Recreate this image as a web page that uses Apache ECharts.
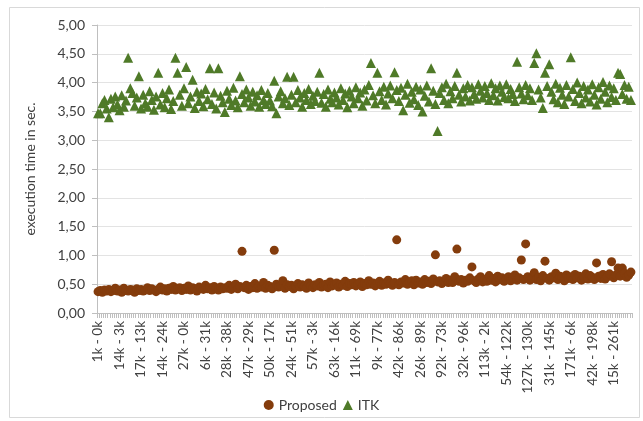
<!DOCTYPE html>
<html>
<head>
<meta charset="utf-8">
<script src="https://cdn.jsdelivr.net/npm/echarts@6/dist/echarts.min.js"></script>
<style>html,body{margin:0;padding:0;background:#fff}#c{width:643px;height:421px}</style>
</head>
<body>
<div id="c"></div>
<script>
var tickLabels = ["1k - 0k","14k - 3k","17k - 13k","14k - 24k","27k - 0k","6k - 31k","28k - 38k","47k - 29k","50k - 17k","24k - 51k","57k - 3k","63k - 16k","11k - 69k","9k - 77k","42k - 86k","26k - 89k","92k - 73k","32k - 96k","113k - 2k","54k - 122k","127k - 130k","31k - 145k","171k - 6k","42k - 198k","15k - 261k"];
var labelStep = 10;
var categoryCount = 249;

var proposed = [
0.37,0.39,0.36,0.40,0.38,0.41,0.37,0.39,0.43,0.38,
0.40,0.36,0.43,0.39,0.38,0.41,0.40,0.36,0.42,0.39,
0.41,0.38,0.40,0.44,0.39,0.42,0.40,0.37,0.41,0.45,
0.40,0.42,0.38,0.43,0.41,0.46,0.40,0.42,0.44,0.39,
0.43,0.41,0.47,0.40,0.44,0.42,0.38,0.45,0.43,0.41,
0.48,0.42,0.44,0.40,0.46,0.43,0.40,0.45,0.42,0.44,
0.43,0.48,0.41,0.45,0.50,0.42,0.46,1.07,0.44,0.48,
0.41,0.46,0.44,0.51,0.43,0.47,0.45,0.53,0.43,0.48,
0.46,0.42,1.09,0.50,0.45,0.47,0.56,0.43,0.49,0.46,
0.48,0.42,0.47,0.51,0.45,0.49,0.46,0.43,0.52,0.47,
0.44,0.49,0.47,0.53,0.45,0.48,0.50,0.44,0.54,0.47,
0.49,0.52,0.45,0.50,0.48,0.55,0.46,0.51,0.49,0.53,
0.47,0.50,0.54,0.46,0.51,0.49,0.56,0.50,0.52,0.47,
0.51,0.55,0.48,0.52,0.50,0.57,0.51,0.48,0.53,1.27,
0.49,0.54,0.52,0.58,0.50,0.53,0.56,0.49,0.57,0.52,
0.54,0.50,0.58,0.53,0.55,0.51,0.59,1.01,0.54,0.56,
0.51,0.55,0.60,0.53,0.57,0.53,0.63,1.11,0.55,0.58,
0.52,0.57,0.55,0.61,0.80,0.56,0.53,0.59,0.63,0.54,
0.58,0.55,0.65,0.57,0.60,0.54,0.64,0.58,0.61,0.55,
0.59,0.63,0.56,0.60,0.66,0.57,0.61,0.92,0.58,1.20,
0.63,0.57,0.61,0.70,0.58,0.62,0.56,0.65,0.90,0.60,
0.57,0.63,0.61,0.69,0.58,0.64,0.62,0.56,0.66,0.60,
0.63,0.58,0.67,0.61,0.64,0.57,0.62,0.68,0.59,0.65,
0.62,0.58,0.87,0.64,0.60,0.67,0.59,0.63,0.68,0.89,
0.61,0.66,0.78,0.64,0.78,0.69,0.62,0.66,0.71
];

var itk = [
3.47,3.47,3.64,3.70,3.55,3.40,3.72,3.57,3.76,3.62,
3.52,3.78,3.58,3.69,4.43,3.90,3.82,3.60,3.74,4.11,
3.55,3.79,3.64,3.58,3.85,3.70,3.53,3.76,4.17,3.62,
3.82,3.57,3.73,3.88,3.54,3.68,4.43,4.17,3.79,3.60,
3.90,4.27,3.64,3.76,4.05,3.56,3.84,3.68,3.81,3.59,
3.89,3.71,4.25,3.63,3.83,3.55,4.25,3.77,3.66,3.49,
3.86,3.72,3.61,3.91,3.69,3.57,4.11,3.80,3.66,3.88,
3.74,3.60,3.84,3.67,3.78,3.58,3.87,3.70,3.63,3.82,
3.69,3.59,4.03,3.47,3.76,3.85,3.64,3.73,4.10,3.61,
3.79,4.10,3.66,3.87,3.74,3.58,3.82,3.70,3.89,3.63,
3.77,3.68,3.84,4.17,3.65,3.80,3.58,3.88,3.72,3.66,
3.83,3.74,3.62,3.90,3.70,3.81,3.57,3.86,3.76,3.64,
3.92,3.73,3.83,3.60,3.88,3.69,3.96,4.34,3.78,3.64,
4.17,3.85,3.70,3.93,3.62,3.81,3.95,3.73,4.18,3.87,
3.68,3.91,3.52,3.79,3.98,3.65,3.84,3.71,3.93,3.61,
3.88,3.50,3.77,3.95,3.67,4.25,3.86,3.63,3.16,3.82,
3.92,3.70,3.98,3.64,3.85,3.73,3.94,4.17,3.79,3.67,
3.90,3.76,3.96,3.69,3.92,3.80,3.72,3.97,3.86,3.74,
3.94,3.82,3.70,3.99,3.78,3.90,3.69,3.95,3.84,3.75,
3.97,3.73,3.89,3.80,3.68,4.36,3.92,3.81,3.71,3.96,
3.78,3.90,3.70,4.34,4.51,3.88,3.74,3.56,4.17,3.94,
4.32,3.84,3.71,3.98,3.66,3.91,3.79,3.63,3.96,3.76,
4.44,3.89,3.68,4.00,3.82,3.64,3.94,3.74,3.88,3.67,
3.97,3.79,3.62,3.92,3.72,4.01,3.84,3.66,3.95,3.75,
3.90,3.70,4.17,4.15,3.80,3.96,3.72,3.93,3.70
];

var categories = [];
for (var i = 0; i < categoryCount; i++) {
  categories.push(i % labelStep === 0 ? tickLabels[i / labelStep] : ('c' + i));
}

var FONT = 'Lato';
var chart = echarts.init(document.getElementById('c'), null, {renderer: 'canvas'});
chart.setOption({
  animation: false,
  backgroundColor: '#fff',
  textStyle: {fontFamily: FONT},
  graphic: [{
    type: 'rect', shape: {x: 9.5, y: 7.5, width: 630, height: 410},
    style: {fill: 'none', stroke: '#d9d9d9', lineWidth: 1}, silent: true, z: -1
  }],
  grid: {left: 97, right: 11, top: 25, bottom: 108, containLabel: false},
  legend: {
    bottom: 4, left: 'center', itemGap: 6, itemWidth: 10, itemHeight: 10,
    textStyle: {fontFamily: FONT, fontSize: 14, color: '#404040'},
    data: [{name: 'Proposed', icon: 'circle'}, {name: 'ITK', icon: 'triangle'}]
  },
  xAxis: {
    type: 'category', data: categories, boundaryGap: true,
    axisLine: {lineStyle: {color: '#bfbfbf'}},
    axisTick: {show: true, interval: 0, length: 5, lineStyle: {color: '#bfbfbf'}},
    axisLabel: {interval: labelStep - 1, rotate: 90, fontSize: 13.5, color: '#404040', fontFamily: FONT, margin: 8},
    splitLine: {show: false}
  },
  yAxis: {
    type: 'value', min: 0, max: 5, interval: 0.5,
    name: 'execution time in sec.', nameLocation: 'middle', nameGap: 60, nameRotate: 90,
    nameTextStyle: {fontFamily: FONT, fontSize: 14, color: '#404040'},
    axisLine: {show: true, lineStyle: {color: '#bfbfbf'}},
    axisTick: {show: true, length: 5, lineStyle: {color: '#bfbfbf'}},
    axisLabel: {fontSize: 14, color: '#404040', fontFamily: FONT, margin: 12,
      formatter: function (v) { return v.toFixed(2).replace('.', ','); }},
    splitLine: {lineStyle: {color: '#e3e3e3'}}
  },
  series: [
    {name: 'Proposed', type: 'scatter', symbol: 'circle', symbolSize: 9,
     itemStyle: {color: '#843c0c', opacity: 1},
     data: proposed.map(function (v, i) { return [i, v]; })},
    {name: 'ITK', type: 'scatter', symbol: 'triangle', symbolSize: 10,
     itemStyle: {color: '#4f7a28', opacity: 1},
     data: itk.map(function (v, i) { return [i, v]; })}
  ]
});
</script>
</body>
</html>
